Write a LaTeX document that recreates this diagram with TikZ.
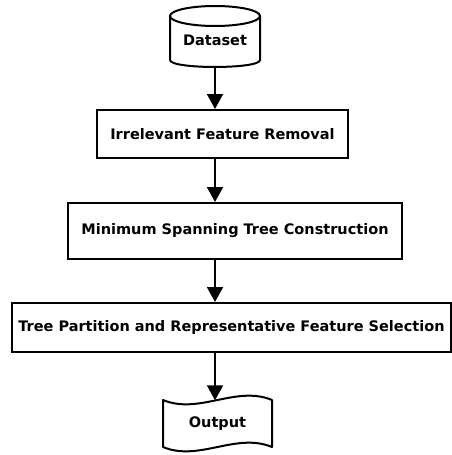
\documentclass[tikz,border=0pt]{standalone}
\usepackage{fontspec}
\setmainfont{DejaVu Sans}
\usetikzlibrary{arrows.meta}

\begin{document}
\begin{tikzpicture}[x=1pt, y=-1pt]
% Flowchart exported by hand, one unit is one pixel
\providecommand{\flowLineWidth}{2pt}
\providecommand{\flowFontSize}{\fontsize{14.5}{16}\selectfont}
\tikzset{
  flowbox/.style={draw=black, line width=\flowLineWidth, fill=white, font=\flowFontSize\bfseries, inner sep=0pt},
  flowlabel/.style={font=\flowFontSize\bfseries, inner sep=0pt},
  flowarrow/.style={line width=\flowLineWidth, -{Triangle[length=15pt, width=16pt]}}
}
\useasboundingbox (0,0) rectangle (452,455);
% Input cylinder
\draw[line width=\flowLineWidth] (215,16) ellipse [x radius=45, y radius=10];
\draw[line width=\flowLineWidth] (170,16) -- (170,60) .. controls (170,69.3) and (260,69.3) .. (260,60) -- (260,16);
\node[flowlabel, minimum width=90pt, minimum height=54pt] (data) at (215,40) {Dataset};
% Process steps
\node[flowbox, minimum width=251pt, minimum height=48pt] (irr) at (222.5,134) {Irrelevant Feature Removal};
\node[flowbox, minimum width=334pt, minimum height=56pt] (mst) at (235,231) {Minimum Spanning Tree Construction};
\node[flowbox, minimum width=439pt, minimum height=49pt] (part) at (231.5,327.5) {Tree Partition and Representative Feature Selection};
% Output tape
\draw[line width=\flowLineWidth, line join=round] (163,400) .. controls (199,415) and (236,385) .. (272,400) -- (272,447)
  .. controls (236,432) and (199,462) .. (163,447) -- cycle;
\node[flowlabel, minimum width=109pt, minimum height=47pt] (out) at (217.5,424) {Output};
% Connectors
\draw[flowarrow] (data.south) -- (data.south |- irr.north);
\draw[flowarrow] (irr.south -| data.south) -- (mst.north -| data.south);
\draw[flowarrow] (mst.south -| data.south) -- (part.north -| data.south);
\draw[flowarrow] (part.south -| data.south) -- (out.north -| data.south);
\end{tikzpicture}
\end{document}
